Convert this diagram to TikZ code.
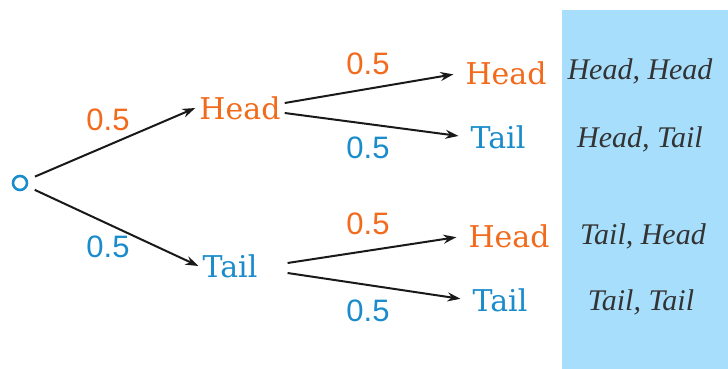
\documentclass[tikz,border=0pt]{standalone}
\usepackage{fontspec}
\usepackage{tikz}
\usetikzlibrary{arrows.meta}
\newfontfamily\slabfont{DejaVu Serif}
\newfontfamily\probfont{Liberation Sans}
\newfontfamily\pairfont{Liberation Serif}
\definecolor{headorange}{HTML}{F26A1B}
\definecolor{tailblue}{HTML}{1A8BCB}
\definecolor{pairbg}{HTML}{A7DEFC}
\definecolor{pairtext}{HTML}{333333}
\tikzstyle{outcome}=[inner sep=4pt, font=\slabfont\fontsize{30}{36}\selectfont]
\tikzstyle{head_out}=[outcome, text=headorange]
\tikzstyle{tail_out}=[outcome, text=tailblue]
\tikzstyle{prob}=[inner sep=0pt, font=\probfont\fontsize{31}{36}\selectfont]
\tikzstyle{pair}=[inner sep=0pt, anchor=base, text=pairtext, font=\pairfont\itshape\fontsize{30}{36}\selectfont]
\tikzstyle{branch}=[-{Stealth[length=13pt,width=9pt]}, line width=2pt, black!90]

\begin{document}
\begin{tikzpicture}[x=1pt,y=-1pt]
\useasboundingbox (0,0) rectangle (728,369);
\fill[pairbg] (562,10) rectangle (728,369);
\node[circle, draw=tailblue, line width=2.6pt, minimum size=14pt, inner sep=0pt] (root) at (20,183){};
\node[head_out] (h) at (240,108){Head};
\node[tail_out] (t) at (230,266){Tail};
\node[head_out] (hh) at (506,73){Head};
\node[tail_out] (ht) at (498,137){Tail};
\node[head_out] (th) at (509,236){Head};
\node[tail_out] (tt) at (500,300){Tail};
\node[prob, text=headorange] (p_h) at (108,120){0.5};
\node[prob, text=tailblue] (p_t) at (108,247){0.5};
\node[prob, text=headorange] (p_hh) at (368,64){0.5};
\node[prob, text=tailblue] (p_ht) at (368,148){0.5};
\node[prob, text=headorange] (p_th) at (368,224){0.5};
\node[prob, text=tailblue] (p_tt) at (368,311){0.5};
\node[pair] (s_hh) at (640,80){Head, Head};
\node[pair] (s_ht) at (640,147){Head, Tail};
\node[pair] (s_th) at (643,244){Tail, Head};
\node[pair] (s_tt) at (641,310){Tail, Tail};
\draw[branch, shorten <=8pt](root) -- (h.west);
\draw[branch, shorten <=8pt](root) -- (t.west);
\draw[branch, shorten >=8pt]([yshift=5pt]h.east) -- (hh.west);
\draw[branch, shorten >=8pt]([yshift=-5pt]h.east) -- (ht.west);
\draw[branch, shorten >=8pt]([xshift=26pt,yshift=3pt]t.east) -- (th.west);
\draw[branch, shorten >=8pt]([xshift=26pt,yshift=-7pt]t.east) -- (tt.west);
\end{tikzpicture}
\end{document}
